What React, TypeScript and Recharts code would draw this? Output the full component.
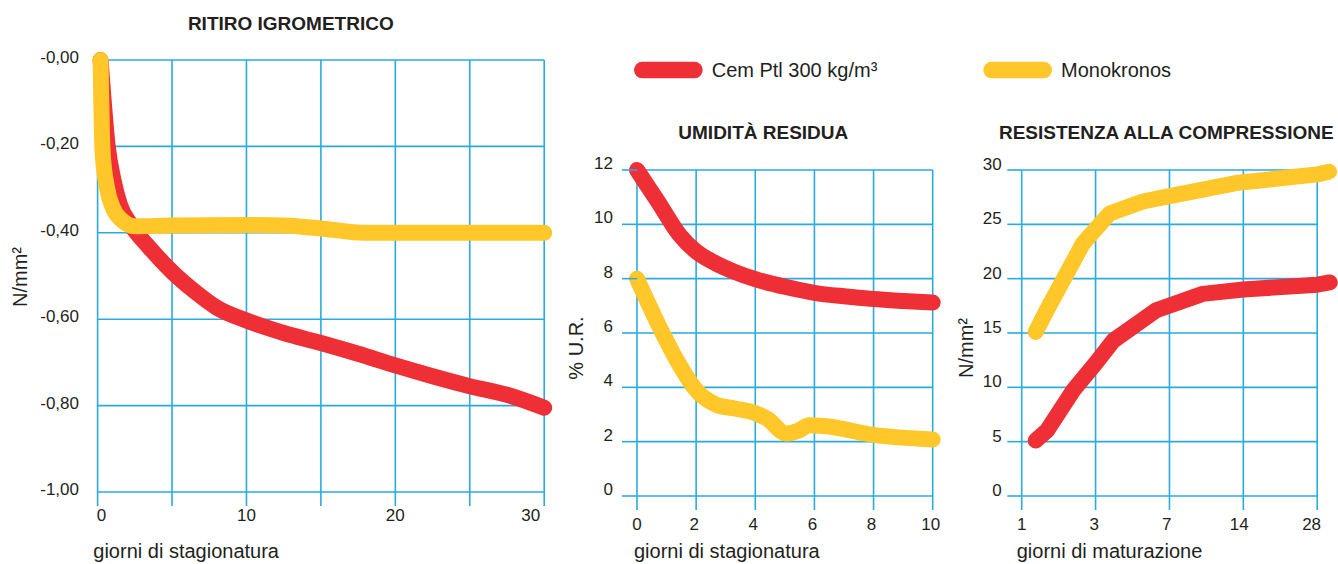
import { CartesianGrid, Line, LineChart, ReferenceLine, XAxis, YAxis } from 'recharts'

const RED = '#ee2f36'
const YELLOW = '#ffc72a'
const GRID = '#29abe2'
const INK = '#231f20'
const FONT = '"Liberation Sans", Arial, Helvetica, sans-serif'

// ritiro igrometrico (N/mm², giorni 0-30)
const ritiroCemX = [0.2, 0.3, 0.68, 1.08, 1.5, 2.2, 3.5, 5, 6.5, 8, 10, 12.5, 15, 17.5, 20, 22.5, 25, 27.5, 30]
const ritiroCemY = [0, -0.046, -0.2, -0.28, -0.335, -0.38, -0.435, -0.49, -0.535, -0.573, -0.603, -0.632, -0.655, -0.68, -0.707, -0.732, -0.755, -0.775, -0.805]
const ritiroMonoX = [0.2, 0.25, 0.33, 0.6, 1.0, 1.6, 2.5, 5, 10, 12.5, 15, 18, 22, 26, 30]
const ritiroMonoY = [0, -0.1, -0.21, -0.29, -0.34, -0.37, -0.385, -0.383, -0.382, -0.383, -0.39, -0.4, -0.4, -0.4, -0.4]
const ritiroXTicks = [0, 5, 10, 15, 20, 25, 30]
const ritiroYTicks = [-1, -0.8, -0.6, -0.4, -0.2, 0]

// umidità residua (% U.R., giorni 0-10)
const umiditaCemX = [0, 0.7, 1.45, 2, 2.6, 3.3, 4, 5, 6, 7, 8, 9, 10]
const umiditaCemY = [12, 10.85, 9.6, 9.0, 8.6, 8.25, 7.98, 7.7, 7.48, 7.35, 7.25, 7.18, 7.12]
const umiditaMonoX = [0, 0.75, 1.45, 2, 2.7, 3.3, 4, 4.4, 5.05, 5.4, 5.85, 6.3, 8, 10]
const umiditaMonoY = [8, 6.25, 4.8, 3.9, 3.35, 3.22, 3.05, 2.85, 2.3, 2.38, 2.6, 2.58, 2.25, 2.08]
const umiditaXTicks = [0, 2, 4, 6, 8, 10]
const umiditaYTicks = [0, 2, 4, 6, 8, 10, 12]

// resistenza alla compressione (N/mm²), x = posizione sulla scala dei giorni
const giorniMaturazione = ['1', '3', '7', '14', '28']
const compXTicks = [0, 1, 2, 3, 4]
const compCemX = [0.19, 0.34, 0.7, 1.0, 1.24, 1.82, 2.45, 3.0, 4.0, 4.17]
const compCemY = [5.1, 6.0, 9.75, 12.2, 14.3, 17.1, 18.6, 19.0, 19.45, 19.65]
const compMonoX = [0.19, 0.34, 0.83, 1.19, 1.64, 2.0, 2.9, 4.0, 4.16]
const compMonoY = [15.1, 17.1, 23.25, 26.0, 27.1, 27.6, 28.8, 29.6, 29.84]
const compYTicks = [0, 5, 10, 15, 20, 25, 30]

const legendItems = [
  { name: 'Cem Ptl 300 kg/m³', color: RED },
  { name: 'Monokronos', color: YELLOW },
]

const toPoints = (xs: number[], ys: number[]) => xs.map((x, i) => ({ x, y: ys[i] }))

const makeYTick = (dy: number, format: (v: number) => string) => (props: any) => (
  <text x={props.x} y={props.y + dy} textAnchor="end" fontSize={17} fontFamily={FONT} fill={INK}>
    {format(props.payload.value)}
  </text>
)

const makeXTick = (dy: number, label: (v: number) => string, shift: (v: number) => number) => (props: any) => (
  <text
    x={props.x + shift(props.payload.value)}
    y={props.y + dy}
    textAnchor="middle"
    fontSize={17}
    fontFamily={FONT}
    fill={INK}
  >
    {label(props.payload.value)}
  </text>
)

const lineProps = {
  type: 'monotone' as const,
  dataKey: 'y',
  strokeWidth: 16,
  strokeLinecap: 'round' as const,
  strokeLinejoin: 'round' as const,
  dot: false,
  activeDot: false,
  isAnimationActive: false,
}

const fmtRitiro = (v: number) => (v === 0 ? '-0,00' : v.toFixed(2).replace('.', ','))

export default function App() {
  return (
    <div style={{ position: 'absolute', left: 0, top: 0, width: 1338, height: 564, background: '#fff', overflow: 'hidden' }}>
      <div style={{ position: 'absolute', left: 0, top: 0 }}>
        <LineChart width={560} height={564} margin={{ top: 60, right: 15.8, bottom: 42, left: 0 }}>
          <CartesianGrid stroke={GRID} strokeWidth={1.6} />
          <XAxis
            type="number"
            dataKey="x"
            domain={[0, 30]}
            ticks={ritiroXTicks}
            interval={0}
            height={30}
            axisLine={false}
            tickSize={14}
            tickLine={{ stroke: GRID, strokeWidth: 1.6 }}
            tick={makeXTick(
              13,
              (v) => (v % 10 === 0 ? String(v) : ''),
              (v) => (v === 0 ? 4 : v === 30 ? -13.5 : 0),
            )}
          />
          <YAxis
            type="number"
            domain={[-1, 0]}
            ticks={ritiroYTicks}
            interval={0}
            width={97.6}
            axisLine={false}
            tickLine={false}
            tickSize={0}
            tickMargin={18.6}
            tick={makeYTick(3, fmtRitiro)}
          />
          <Line {...lineProps} data={toPoints(ritiroCemX, ritiroCemY)} stroke={RED} />
          <Line {...lineProps} data={toPoints(ritiroMonoX, ritiroMonoY)} stroke={YELLOW} />
        </LineChart>
      </div>

      <div style={{ position: 'absolute', left: 560, top: 0 }}>
        <LineChart width={400} height={564} margin={{ top: 170, right: 27.3, bottom: 38, left: 0 }}>
          <CartesianGrid stroke={GRID} strokeWidth={1.6} />
          <XAxis
            type="number"
            dataKey="x"
            domain={[0, 10]}
            ticks={umiditaXTicks}
            interval={0}
            height={30}
            axisLine={false}
            tickSize={14}
            tickLine={{ stroke: GRID, strokeWidth: 1.6 }}
            tick={makeXTick(17.5, (v) => String(v), (v) => (v === 0 ? 0 : -2))}
          />
          <YAxis
            type="number"
            domain={[0, 12]}
            ticks={umiditaYTicks}
            interval={0}
            width={77}
            axisLine={false}
            tickSize={15}
            tickMargin={9}
            tickLine={{ stroke: GRID, strokeWidth: 1.6 }}
            tick={makeYTick(-1, (v) => String(v))}
          />
          <Line {...lineProps} data={toPoints(umiditaCemX, umiditaCemY)} stroke={RED} />
          <Line {...lineProps} data={toPoints(umiditaMonoX, umiditaMonoY)} stroke={YELLOW} />
        </LineChart>
      </div>

      <div style={{ position: 'absolute', left: 950, top: 0 }}>
        <LineChart width={388} height={564} margin={{ top: 170, right: 6, bottom: 38, left: 0 }}>
          {compYTicks.map((v) => (
            <ReferenceLine
              key={'h' + v}
              segment={[{ x: 0, y: v }, { x: 4, y: v }]}
              stroke={GRID}
              strokeWidth={1.6}
            />
          ))}
          {compXTicks.map((v) => (
            <ReferenceLine
              key={'v' + v}
              segment={[{ x: v, y: 0 }, { x: v, y: 30 }]}
              stroke={GRID}
              strokeWidth={1.6}
            />
          ))}
          <XAxis
            type="number"
            dataKey="x"
            domain={[0, 4.2]}
            ticks={compXTicks}
            interval={0}
            height={30}
            axisLine={false}
            tickSize={14}
            tickLine={{ stroke: GRID, strokeWidth: 1.6 }}
            tick={makeXTick(17.5, (v) => giorniMaturazione[v] ?? '', (v) => -1.4 * v)}
          />
          <YAxis
            type="number"
            domain={[0, 30]}
            ticks={compYTicks}
            interval={0}
            width={71.7}
            axisLine={false}
            tickSize={14.4}
            tickMargin={5.6}
            tickLine={{ stroke: GRID, strokeWidth: 1.6 }}
            tick={makeYTick(0, (v) => String(v))}
          />
          <Line {...lineProps} type="linear" data={toPoints(compCemX, compCemY)} stroke={RED} />
          <Line {...lineProps} type="linear" data={toPoints(compMonoX, compMonoY)} stroke={YELLOW} />
        </LineChart>
      </div>

      <svg
        width={1338}
        height={564}
        style={{ position: 'absolute', left: 0, top: 0, pointerEvents: 'none' }}
        fontFamily={FONT}
        fill={INK}
      >
        <text x={290.8} y={30} textAnchor="middle" fontSize={19} fontWeight="bold">RITIRO IGROMETRICO</text>
        <text x={763.3} y={139.3} textAnchor="middle" fontSize={19} fontWeight="bold">UMIDITÀ RESIDUA</text>
        <text x={1166.3} y={139.3} textAnchor="middle" fontSize={19} fontWeight="bold">RESISTENZA ALLA COMPRESSIONE</text>

        <text transform="translate(20,277) rotate(-90)" y={7} textAnchor="middle" fontSize={20}>N/mm²</text>
        <text transform="translate(576,348) rotate(-90)" y={7} textAnchor="middle" fontSize={20}>% U.R.</text>
        <text transform="translate(966,348) rotate(-90)" y={7} textAnchor="middle" fontSize={20}>N/mm²</text>

        <text x={93.3} y={558} fontSize={20}>giorni di stagionatura</text>
        <text x={634} y={558} fontSize={20}>giorni di stagionatura</text>
        <text x={1016.7} y={558} fontSize={20}>giorni di maturazione</text>

        {legendItems.map((item, i) => {
          const x0 = i === 0 ? 634 : 983.3
          return (
            <g key={item.name}>
              <rect x={x0} y={61.8} width={68.7} height={16.5} rx={8.25} fill={item.color} />
              <text x={x0 + 77.7} y={76.8} fontSize={20}>{item.name}</text>
            </g>
          )
        })}
      </svg>
    </div>
  )
}
